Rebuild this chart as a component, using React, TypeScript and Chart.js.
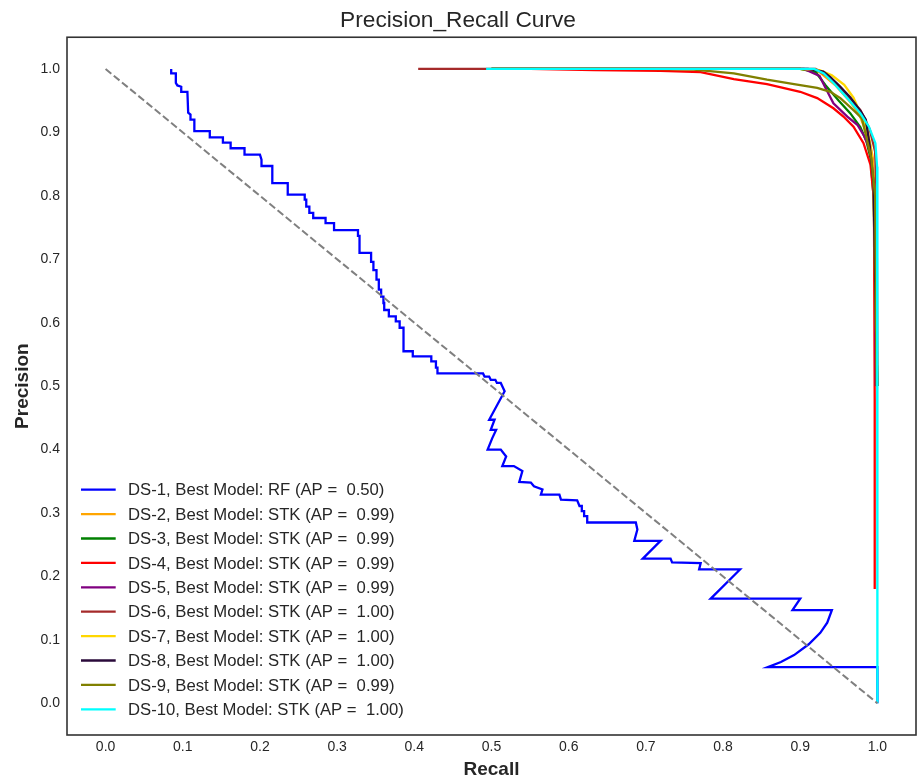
import React, { useEffect, useRef } from "react";
import { Chart, registerables } from "chart.js";

Chart.register(...registerables);

const FONT = '"Liberation Sans", Arial, sans-serif';
const TEXT = "#262626";

const xTicks = [0, 0.1, 0.2, 0.3, 0.4, 0.5, 0.6, 0.7, 0.8, 0.9, 1.0];
const yTicks = [0, 0.1, 0.2, 0.3, 0.4, 0.5, 0.6, 0.7, 0.8, 0.9, 1.0];

const seriesLabels = [
  "DS-1, Best Model: RF (AP =  0.50)",
  "DS-2, Best Model: STK (AP =  0.99)",
  "DS-3, Best Model: STK (AP =  0.99)",
  "DS-4, Best Model: STK (AP =  0.99)",
  "DS-5, Best Model: STK (AP =  0.99)",
  "DS-6, Best Model: STK (AP =  1.00)",
  "DS-7, Best Model: STK (AP =  1.00)",
  "DS-8, Best Model: STK (AP =  1.00)",
  "DS-9, Best Model: STK (AP =  0.99)",
  "DS-10, Best Model: STK (AP =  1.00)",
];

const seriesColors = [
  "#0000ff",
  "#ffa500",
  "#008000",
  "#ff0000",
  "#800080",
  "#a52a2a",
  "#ffd700",
  "#2a0a3a",
  "#808000",
  "#00ffff",
];

// [recall, precision]
const ds1: [number, number][] = [
  [0.085, 1.0], [0.085, 0.993], [0.091, 0.993], [0.091, 0.978], [0.093, 0.974], [0.098, 0.972],
  [0.098, 0.964], [0.106, 0.964], [0.107, 0.931], [0.11, 0.928], [0.11, 0.92], [0.115, 0.92],
  [0.115, 0.902], [0.135, 0.902], [0.135, 0.892], [0.152, 0.892], [0.152, 0.884], [0.162, 0.884],
  [0.162, 0.875], [0.18, 0.875], [0.18, 0.865], [0.2, 0.865], [0.202, 0.857], [0.202, 0.847],
  [0.216, 0.847], [0.216, 0.82], [0.236, 0.82], [0.236, 0.802], [0.258, 0.802], [0.258, 0.794],
  [0.26, 0.794], [0.26, 0.783], [0.264, 0.783], [0.264, 0.773], [0.269, 0.773], [0.269, 0.765],
  [0.285, 0.765], [0.285, 0.757], [0.296, 0.757], [0.296, 0.746], [0.327, 0.746], [0.327, 0.737],
  [0.329, 0.737], [0.329, 0.71], [0.344, 0.71], [0.344, 0.696], [0.347, 0.696], [0.347, 0.683],
  [0.351, 0.683], [0.351, 0.668], [0.354, 0.668], [0.354, 0.652], [0.357, 0.652], [0.357, 0.641],
  [0.36, 0.641], [0.36, 0.631], [0.361, 0.631], [0.361, 0.62], [0.367, 0.62], [0.367, 0.61],
  [0.376, 0.61], [0.376, 0.602], [0.381, 0.602], [0.381, 0.592], [0.386, 0.592], [0.386, 0.555],
  [0.398, 0.555], [0.398, 0.547], [0.422, 0.547], [0.422, 0.539], [0.428, 0.539], [0.428, 0.529],
  [0.43, 0.529], [0.43, 0.52], [0.489, 0.52], [0.491, 0.515], [0.497, 0.515], [0.499, 0.51],
  [0.505, 0.51], [0.507, 0.505], [0.512, 0.505], [0.517, 0.492], [0.497, 0.447], [0.504, 0.447],
  [0.499, 0.431], [0.506, 0.431], [0.501, 0.418], [0.495, 0.4], [0.512, 0.4], [0.519, 0.389],
  [0.514, 0.374], [0.529, 0.374], [0.54, 0.366], [0.536, 0.349], [0.551, 0.348], [0.555, 0.342],
  [0.566, 0.337], [0.564, 0.329], [0.588, 0.329], [0.59, 0.321], [0.611, 0.32], [0.614, 0.311],
  [0.617, 0.311], [0.617, 0.303], [0.62, 0.303], [0.62, 0.295], [0.624, 0.295], [0.624, 0.285],
  [0.687, 0.285], [0.689, 0.274], [0.685, 0.256], [0.719, 0.256], [0.696, 0.228], [0.732, 0.228],
  [0.734, 0.222], [0.771, 0.221], [0.769, 0.211], [0.822, 0.211], [0.784, 0.165], [0.9, 0.165],
  [0.89, 0.147], [0.941, 0.147], [0.935, 0.127], [0.926, 0.111], [0.911, 0.093], [0.892, 0.076],
  [0.875, 0.065], [0.858, 0.057], [1.0, 0.057], [1.0, 0.0],
];
const ds2: [number, number][] = [
  [0.5, 1.0], [0.9, 1.0], [0.925, 0.995], [0.945, 0.975], [0.962, 0.952], [0.976, 0.93],
  [0.983, 0.908], [0.99, 0.886], [0.994, 0.86], [0.997, 0.8], [0.999, 0.6], [1.0, 0.5],
];
const ds3: [number, number][] = [
  [0.5, 1.0], [0.9, 1.0], [0.92, 0.995], [0.933, 0.974], [0.95, 0.95], [0.965, 0.93],
  [0.978, 0.908], [0.986, 0.885], [0.991, 0.86], [0.995, 0.8], [0.998, 0.6], [1.0, 0.5],
];
const ds4: [number, number][] = [
  [0.55, 1.0], [0.633, 0.998], [0.719, 0.997], [0.771, 0.995], [0.814, 0.984], [0.857, 0.976],
  [0.9, 0.964], [0.922, 0.954], [0.943, 0.938], [0.956, 0.925], [0.969, 0.909], [0.982, 0.883],
  [0.991, 0.849], [0.9955, 0.794], [0.9965, 0.479], [0.9965, 0.18],
];
const ds5: [number, number][] = [
  [0.5, 1.0], [0.905, 1.0], [0.925, 0.989], [0.932, 0.972], [0.943, 0.946], [0.961, 0.925],
  [0.974, 0.912], [0.983, 0.894], [0.988, 0.88], [0.992, 0.86], [0.995, 0.82], [0.997, 0.7],
  [0.998, 0.5],
];
const ds6: [number, number][] = [
  [0.405, 1.0], [0.92, 1.0], [0.94, 0.985], [0.96, 0.96], [0.978, 0.935], [0.99, 0.905],
  [0.997, 0.87], [0.999, 0.8], [1.0, 0.5],
];
const ds7: [number, number][] = [
  [0.5, 1.0], [0.9, 1.0], [0.925, 0.998], [0.941, 0.99], [0.957, 0.975], [0.969, 0.955],
  [0.978, 0.93], [0.987, 0.905], [0.992, 0.87], [0.995, 0.82], [0.998, 0.6], [1.0, 0.5],
];
const ds8: [number, number][] = [
  [0.5, 1.0], [0.91, 1.0], [0.93, 0.996], [0.939, 0.987], [0.952, 0.972], [0.965, 0.955],
  [0.978, 0.934], [0.985, 0.92], [0.99, 0.88], [0.995, 0.82], [0.998, 0.6], [1.0, 0.5],
];
const ds9: [number, number][] = [
  [0.5, 1.0], [0.7, 1.0], [0.762, 0.999], [0.814, 0.993], [0.857, 0.983], [0.892, 0.976],
  [0.922, 0.97], [0.939, 0.964], [0.952, 0.954], [0.969, 0.935], [0.98, 0.922], [0.984, 0.901],
  [0.992, 0.86], [0.997, 0.8], [0.999, 0.5],
];
const ds10: [number, number][] = [
  [0.493, 1.0], [0.918, 1.0], [0.9305, 0.993], [0.9435, 0.9775], [0.961, 0.954], [0.978, 0.93],
  [0.989, 0.909], [0.9974, 0.883], [0.9996, 0.846], [1.0, 0.715], [1.0, 0.0],
];
const seriesData = [ds1, ds2, ds3, ds4, ds5, ds6, ds7, ds8, ds9, ds10];

const diagonal: [number, number][] = [[0, 1], [1, 0]];

const framePlugin = {
  id: "frame",
  afterDatasetsDraw(chart: any) {
    const { ctx, chartArea } = chart;
    ctx.save();
    ctx.strokeStyle = "#333333";
    ctx.lineWidth = 1.6;
    ctx.strokeRect(chartArea.left, chartArea.top, chartArea.right - chartArea.left, chartArea.bottom - chartArea.top);
    ctx.restore();
  },
};

const insideLegend = {
  id: "insideLegend",
  afterDraw(chart: any) {
    const { ctx, chartArea } = chart;
    const items = chart.data.datasets.filter((d: any) => d.label);
    const rowGap = 24.4;
    const lastY = chartArea.bottom - 25.7;
    const firstY = lastY - rowGap * (items.length - 1);
    ctx.save();
    ctx.font = `16.7px ${FONT}`;
    ctx.textBaseline = "middle";
    ctx.textAlign = "left";
    items.forEach((d: any, i: number) => {
      const y = firstY + i * rowGap;
      ctx.strokeStyle = d.borderColor;
      ctx.lineWidth = 2.3;
      ctx.beginPath();
      ctx.moveTo(chartArea.left + 14, y);
      ctx.lineTo(chartArea.left + 48.7, y);
      ctx.stroke();
      ctx.fillStyle = TEXT;
      ctx.fillText(d.label, chartArea.left + 61, y + 1);
    });
    ctx.restore();
  },
};

export default function App() {
  const canvasRef = useRef<HTMLCanvasElement | null>(null);

  useEffect(() => {
    document.body.style.margin = "0";
    const canvas = canvasRef.current;
    if (!canvas) return;

    const datasets: any[] = seriesData.map((d, i) => ({
      label: seriesLabels[i],
      data: d,
      borderColor: seriesColors[i],
      backgroundColor: seriesColors[i],
      borderWidth: 2.3,
      pointRadius: 0,
      fill: false,
      tension: 0,
      order: 20 - i,
    }));
    datasets.push({
      label: "",
      data: diagonal,
      borderColor: "#808080",
      borderWidth: 2,
      borderDash: [7.4, 3.2],
      pointRadius: 0,
      fill: false,
      tension: 0,
      order: 5,
    });

    const chart = new Chart(canvas, {
      type: "line",
      data: { datasets },
      options: {
        animation: false,
        responsive: true,
        maintainAspectRatio: false,
        events: [],
        layout: { padding: { left: 0, right: 4, top: 0, bottom: 0 } },
        plugins: {
          legend: { display: false },
          tooltip: { enabled: false },
          title: {
            display: true,
            text: "Precision_Recall Curve",
            color: TEXT,
            font: { family: FONT, size: 22.7, weight: "normal" },
            padding: { top: 7, bottom: 3 },
          },
        },
        scales: {
          x: {
            type: "linear",
            min: -0.05,
            max: 1.05,
            grid: { display: false, drawTicks: false },
            border: { display: false },
            afterBuildTicks: (s: any) => {
              s.ticks = xTicks.map((v) => ({ value: v }));
            },
            afterFit: (s: any) => {
              s.height = 49;
            },
            ticks: {
              autoSkip: false,
              maxRotation: 0,
              padding: 4,
              color: TEXT,
              font: { family: FONT, size: 14 },
              callback: (v: any) => Number(v).toFixed(1),
            },
            title: {
              display: true,
              text: "Recall",
              color: TEXT,
              font: { family: FONT, size: 19, weight: "bold" },
              padding: { top: 0, bottom: 3 },
            },
          },
          y: {
            type: "linear",
            min: -0.05,
            max: 1.05,
            grid: { display: false, drawTicks: false },
            border: { display: false },
            afterBuildTicks: (s: any) => {
              s.ticks = yTicks.map((v) => ({ value: v }));
            },
            afterFit: (s: any) => {
              s.width = 67;
            },
            ticks: {
              autoSkip: false,
              padding: 7,
              color: TEXT,
              font: { family: FONT, size: 14 },
              callback: (v: any) => Number(v).toFixed(1),
            },
            title: {
              display: true,
              text: "Precision",
              color: TEXT,
              font: { family: FONT, size: 19, weight: "bold" },
              padding: { top: 11, bottom: 0 },
            },
          },
        },
      } as any,
      plugins: [framePlugin, insideLegend],
    });

    return () => chart.destroy();
  }, []);

  return (
    <div style={{ width: 920, height: 784, position: "relative" }}>
      <canvas ref={canvasRef} />
    </div>
  );
}
